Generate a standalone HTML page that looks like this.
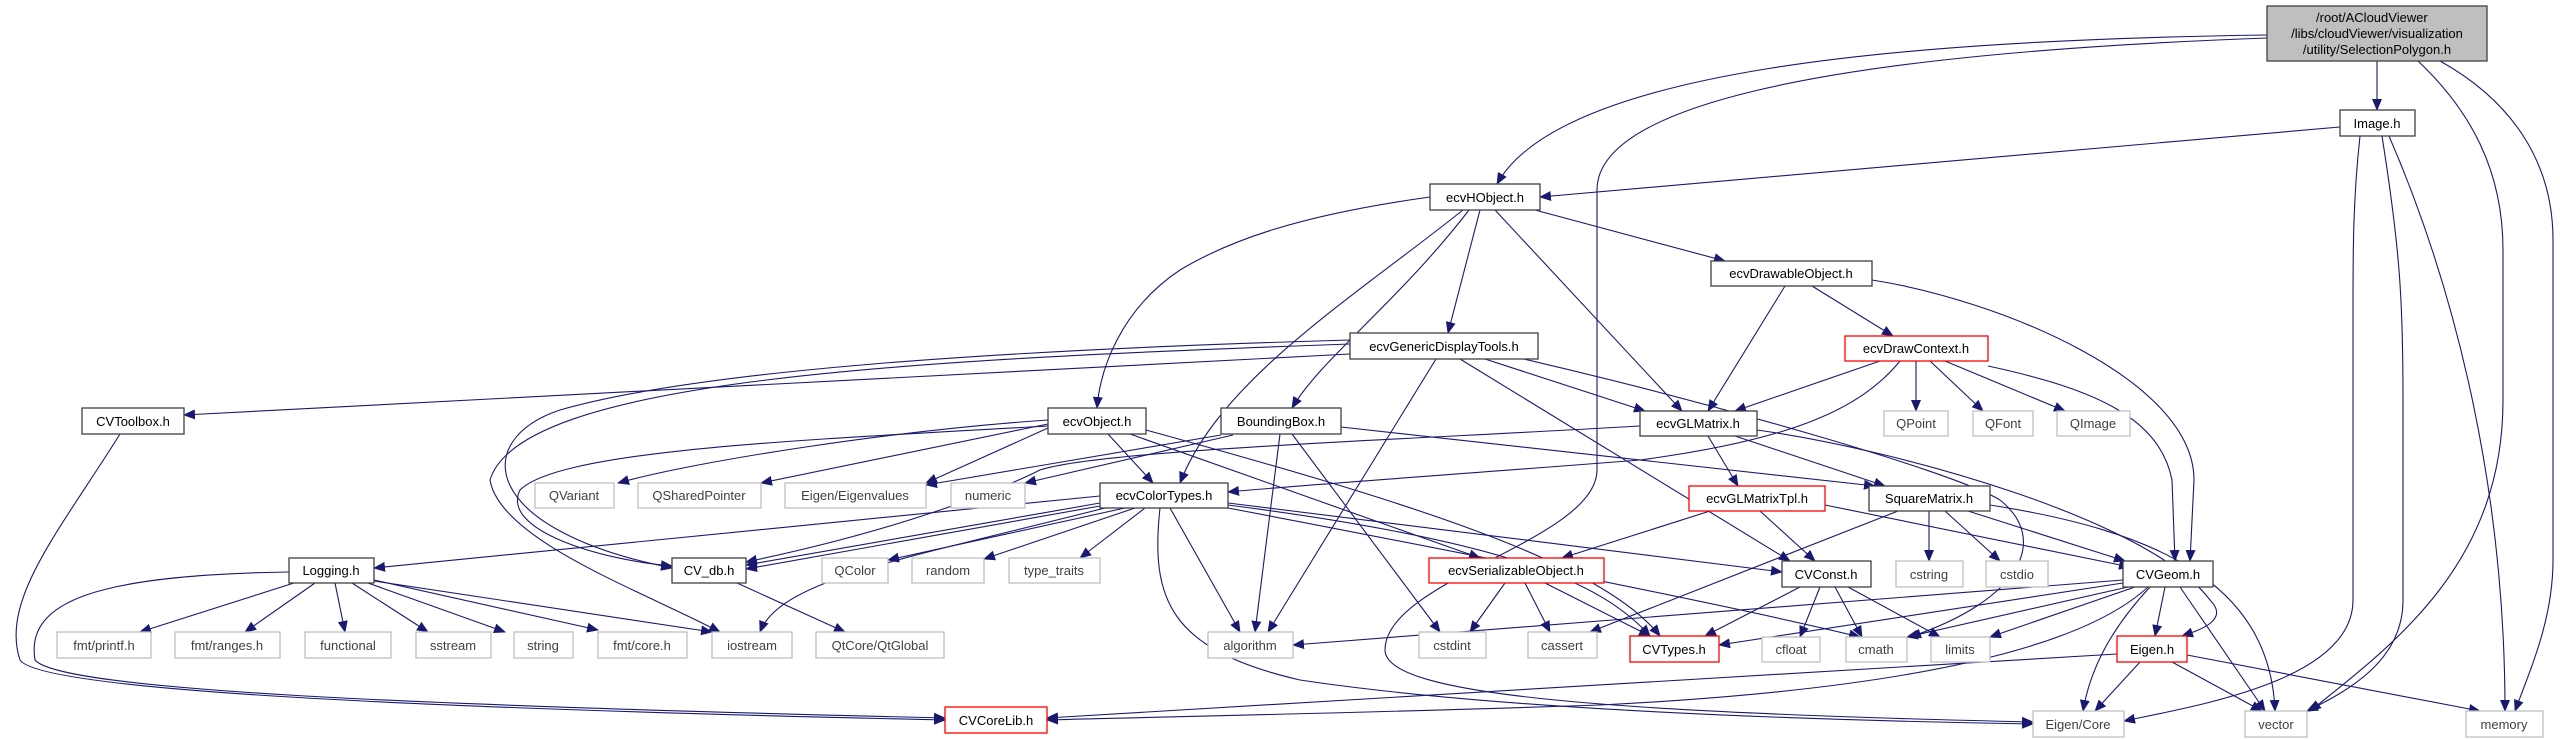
<!DOCTYPE html>
<html><head><meta charset="utf-8"><style>
html,body{margin:0;padding:0;background:#fff;}
svg{display:block;}
text{font-family:"Liberation Sans",Helvetica,sans-serif;font-size:13px;text-anchor:middle;}
.n rect{fill:#fff;stroke:#404040;stroke-width:1.3;}
.r rect{fill:#fff;stroke:#ff0000;stroke-width:1.3;}
.s rect{fill:#fff;stroke:#bfbfbf;stroke-width:1.3;}
.s text{fill:#404040;}
.r text,.n text{fill:#000;}
.e path{fill:none;stroke:#191970;stroke-width:1.1;marker-end:url(#a);}
</style></head><body>
<svg width="2560" height="739" viewBox="0 0 2560 739" xmlns="http://www.w3.org/2000/svg">
<defs><marker id="a" markerUnits="userSpaceOnUse" markerWidth="12" markerHeight="10" refX="11" refY="5" orient="auto"><path d="M0,0 L12,5 L0,10 Z" fill="#191970"/></marker></defs>
<g class="e">
<path d="M2377,61 L2377,110"/>
<path d="M2267,35 C1900,40 1560,70 1497,184"/>
<path d="M2267,38 C1800,55 1597,110 1597,190 L1597,470 C1597,540 1385,580 1385,650 C1385,695 1600,712 2033,722"/>
<path d="M2418,61 C2470,110 2503,170 2503,250 L2503,400 C2503,560 2400,640 2310,711"/>
<path d="M2440,61 C2510,100 2553,160 2553,240 L2553,560 C2553,620 2530,670 2515,711"/>
<path d="M2340,127 L1540,197"/>
<path d="M2360,136 C2353,200 2353,250 2353,310 L2353,600 C2353,680 2200,705 2124,721"/>
<path d="M2382,136 C2400,250 2403,300 2403,400 L2403,600 C2403,660 2350,690 2307,711"/>
<path d="M2389,136 C2460,300 2505,500 2505,711"/>
<path d="M1430,197 C1300,215 1230,240 1180,270 C1120,310 1100,370 1097,408"/>
<path d="M1463,210 C1350,300 1220,380 1180,483"/>
<path d="M1469,210 C1400,300 1320,360 1292,408"/>
<path d="M1480,210 L1448,333"/>
<path d="M1495,210 L1682,411"/>
<path d="M1535,210 L1725,261"/>
<path d="M1785,286 L1708,411"/>
<path d="M1812,286 L1893,336"/>
<path d="M1872,280 C2000,300 2194,380 2194,480 L2190,561"/>
<path d="M1880,361 L1735,411"/>
<path d="M1900,361 C1860,410 1790,440 1640,460 C1450,475 1300,485 1228,492"/>
<path d="M1916,361 L1916,411"/>
<path d="M1930,361 L1983,411"/>
<path d="M1945,361 L2065,411"/>
<path d="M1988,366 C2100,390 2160,420 2172,480 L2175,561"/>
<path d="M1350,354 L184,415"/>
<path d="M1350,340 C1000,350 700,370 560,410 C470,440 480,530 672,568"/>
<path d="M1350,344 C900,360 520,380 490,480 C500,540 640,590 720,632"/>
<path d="M1436,359 L1268,632"/>
<path d="M1460,359 L1790,561"/>
<path d="M1485,359 L1645,411"/>
<path d="M1524,359 C1700,400 1950,470 2000,500 C2050,540 2020,600 1910,637"/>
<path d="M1048,420 C900,430 700,460 618,483"/>
<path d="M1048,424 L761,483"/>
<path d="M1048,428 L926,483"/>
<path d="M1048,426 C800,440 560,450 520,490 C500,530 600,560 672,566"/>
<path d="M1108,434 L1153,483"/>
<path d="M1130,434 L1480,558"/>
<path d="M1146,430 C1400,500 1600,560 1660,636"/>
<path d="M1221,435 L926,485"/>
<path d="M1233,435 L1025,483"/>
<path d="M1280,434 L1255,632"/>
<path d="M1292,434 L1440,632"/>
<path d="M1341,427 L1875,486"/>
<path d="M1640,426 C1400,440 1100,450 1040,470 C1000,490 900,530 746,562"/>
<path d="M1708,436 L1738,486"/>
<path d="M1735,436 L1885,486"/>
<path d="M1757,430 C1900,450 2150,520 2210,600 C2230,620 2200,630 2182,636"/>
<path d="M1100,496 L374,568"/>
<path d="M1100,503 L746,565"/>
<path d="M1100,506 L746,569"/>
<path d="M1105,508 C900,560 780,580 760,632"/>
<path d="M1125,508 L888,560"/>
<path d="M1135,508 L984,559"/>
<path d="M1145,508 L1080,558"/>
<path d="M1170,508 L1240,632"/>
<path d="M1160,508 C1150,600 1170,650 1300,680 C1500,710 1800,720 2033,724"/>
<path d="M1228,503 L1782,572"/>
<path d="M1228,505 C1500,540 1600,580 1650,636"/>
<path d="M1228,508 C1500,560 1750,610 1860,637"/>
<path d="M294,583 L140,632"/>
<path d="M315,583 L245,632"/>
<path d="M335,583 L345,632"/>
<path d="M352,583 L428,632"/>
<path d="M368,583 L505,632"/>
<path d="M374,580 L598,630"/>
<path d="M374,581 L712,632"/>
<path d="M289,572 C100,575 25,600 35,660 C60,690 400,705 945,718"/>
<path d="M120,434 C60,530 0,600 20,660 C40,690 400,708 945,720"/>
<path d="M737,583 L845,632"/>
<path d="M1710,511 L1562,558"/>
<path d="M1760,511 L1815,561"/>
<path d="M1825,505 L2130,567"/>
<path d="M1898,511 L1590,632"/>
<path d="M1929,511 L1929,561"/>
<path d="M1945,511 L2000,561"/>
<path d="M1968,511 L2125,561"/>
<path d="M1990,505 C2150,530 2270,580 2275,711"/>
<path d="M1505,583 L1470,632"/>
<path d="M1525,583 L1550,632"/>
<path d="M1545,583 L1650,636"/>
<path d="M1800,587 L1705,636"/>
<path d="M1820,587 L1800,637"/>
<path d="M1835,587 L1862,637"/>
<path d="M1848,587 L1940,637"/>
<path d="M2123,580 L1293,645"/>
<path d="M2123,583 L1719,645"/>
<path d="M2128,587 L1907,637"/>
<path d="M2135,587 L1990,637"/>
<path d="M2165,587 L2155,636"/>
<path d="M2150,587 C2110,630 2090,670 2083,711"/>
<path d="M2180,587 L2265,711"/>
<path d="M2148,587 C2080,650 1900,690 1600,705 C1300,715 1100,718 1047,720"/>
<path d="M2117,654 L1047,718"/>
<path d="M2140,662 L2095,711"/>
<path d="M2172,662 L2262,711"/>
<path d="M2187,655 L2480,711"/>
</g>
<g>
<g><rect x="2267" y="6" width="220" height="55" fill="#bfbfbf" stroke="#404040" stroke-width="1.3"/>
<text x="2316" y="22" style="text-anchor:start">/root/ACloudViewer</text>
<text x="2377" y="38">/libs/cloudViewer/visualization</text>
<text x="2377" y="54">/utility/SelectionPolygon.h</text></g>
<g class="n"><rect x="2340" y="110" width="75" height="26"/><text x="2377" y="128">Image.h</text></g>
<g class="n"><rect x="1430" y="184" width="110" height="26"/><text x="1485" y="202">ecvHObject.h</text></g>
<g class="n"><rect x="1711" y="261" width="161" height="25"/><text x="1791" y="278">ecvDrawableObject.h</text></g>
<g class="r"><rect x="1845" y="336" width="143" height="25"/><text x="1916" y="353">ecvDrawContext.h</text></g>
<g class="n"><rect x="1350" y="333" width="188" height="26"/><text x="1444" y="351">ecvGenericDisplayTools.h</text></g>
<g class="n"><rect x="82" y="408" width="102" height="26"/><text x="133" y="426">CVToolbox.h</text></g>
<g class="n"><rect x="1048" y="408" width="98" height="26"/><text x="1097" y="426">ecvObject.h</text></g>
<g class="n"><rect x="1221" y="408" width="120" height="26"/><text x="1281" y="426">BoundingBox.h</text></g>
<g class="n"><rect x="1640" y="411" width="117" height="25"/><text x="1698" y="428">ecvGLMatrix.h</text></g>
<g class="s"><rect x="1884" y="411" width="64" height="25"/><text x="1916" y="428">QPoint</text></g>
<g class="s"><rect x="1973" y="411" width="60" height="25"/><text x="2003" y="428">QFont</text></g>
<g class="s"><rect x="2057" y="411" width="73" height="25"/><text x="2093" y="428">QImage</text></g>
<g class="s"><rect x="535" y="483" width="79" height="25"/><text x="574" y="500">QVariant</text></g>
<g class="s"><rect x="638" y="483" width="123" height="25"/><text x="699" y="500">QSharedPointer</text></g>
<g class="s"><rect x="785" y="483" width="141" height="25"/><text x="855" y="500">Eigen/Eigenvalues</text></g>
<g class="s"><rect x="951" y="483" width="74" height="25"/><text x="988" y="500">numeric</text></g>
<g class="n"><rect x="1100" y="483" width="128" height="25"/><text x="1164" y="500">ecvColorTypes.h</text></g>
<g class="r"><rect x="1689" y="486" width="136" height="25"/><text x="1757" y="503">ecvGLMatrixTpl.h</text></g>
<g class="n"><rect x="1869" y="486" width="121" height="25"/><text x="1929" y="503">SquareMatrix.h</text></g>
<g class="n"><rect x="289" y="558" width="85" height="25"/><text x="331" y="575">Logging.h</text></g>
<g class="n"><rect x="672" y="558" width="74" height="25"/><text x="709" y="575">CV_db.h</text></g>
<g class="s"><rect x="822" y="558" width="66" height="25"/><text x="855" y="575">QColor</text></g>
<g class="s"><rect x="912" y="558" width="72" height="25"/><text x="948" y="575">random</text></g>
<g class="s"><rect x="1009" y="558" width="91" height="25"/><text x="1054" y="575">type_traits</text></g>
<g class="r"><rect x="1429" y="558" width="175" height="25"/><text x="1516" y="575">ecvSerializableObject.h</text></g>
<g class="n"><rect x="1782" y="561" width="89" height="26"/><text x="1826" y="579">CVConst.h</text></g>
<g class="s"><rect x="1896" y="561" width="67" height="26"/><text x="1929" y="579">cstring</text></g>
<g class="s"><rect x="1986" y="561" width="62" height="26"/><text x="2017" y="579">cstdio</text></g>
<g class="n"><rect x="2123" y="561" width="90" height="26"/><text x="2168" y="579">CVGeom.h</text></g>
<g class="s"><rect x="57" y="632" width="94" height="26"/><text x="104" y="650">fmt/printf.h</text></g>
<g class="s"><rect x="175" y="632" width="105" height="26"/><text x="227" y="650">fmt/ranges.h</text></g>
<g class="s"><rect x="305" y="632" width="86" height="26"/><text x="348" y="650">functional</text></g>
<g class="s"><rect x="416" y="632" width="75" height="26"/><text x="453" y="650">sstream</text></g>
<g class="s"><rect x="514" y="632" width="59" height="26"/><text x="543" y="650">string</text></g>
<g class="s"><rect x="598" y="632" width="89" height="26"/><text x="642" y="650">fmt/core.h</text></g>
<g class="s"><rect x="712" y="632" width="80" height="26"/><text x="752" y="650">iostream</text></g>
<g class="s"><rect x="816" y="632" width="128" height="26"/><text x="880" y="650">QtCore/QtGlobal</text></g>
<g class="s"><rect x="1208" y="632" width="85" height="26"/><text x="1250" y="650">algorithm</text></g>
<g class="s"><rect x="1419" y="632" width="67" height="26"/><text x="1452" y="650">cstdint</text></g>
<g class="s"><rect x="1528" y="632" width="69" height="26"/><text x="1562" y="650">cassert</text></g>
<g class="r"><rect x="1630" y="636" width="89" height="26"/><text x="1674" y="654">CVTypes.h</text></g>
<g class="s"><rect x="1762" y="637" width="58" height="25"/><text x="1791" y="654">cfloat</text></g>
<g class="s"><rect x="1846" y="637" width="61" height="25"/><text x="1876" y="654">cmath</text></g>
<g class="s"><rect x="1931" y="637" width="59" height="25"/><text x="1960" y="654">limits</text></g>
<g class="r"><rect x="2117" y="636" width="70" height="26"/><text x="2152" y="654">Eigen.h</text></g>
<g class="r"><rect x="945" y="707" width="102" height="26"/><text x="996" y="725">CVCoreLib.h</text></g>
<g class="s"><rect x="2033" y="711" width="91" height="26"/><text x="2078" y="729">Eigen/Core</text></g>
<g class="s"><rect x="2245" y="711" width="62" height="26"/><text x="2276" y="729">vector</text></g>
<g class="s"><rect x="2466" y="711" width="77" height="26"/><text x="2504" y="729">memory</text></g>
</g>
</svg>
</body></html>
